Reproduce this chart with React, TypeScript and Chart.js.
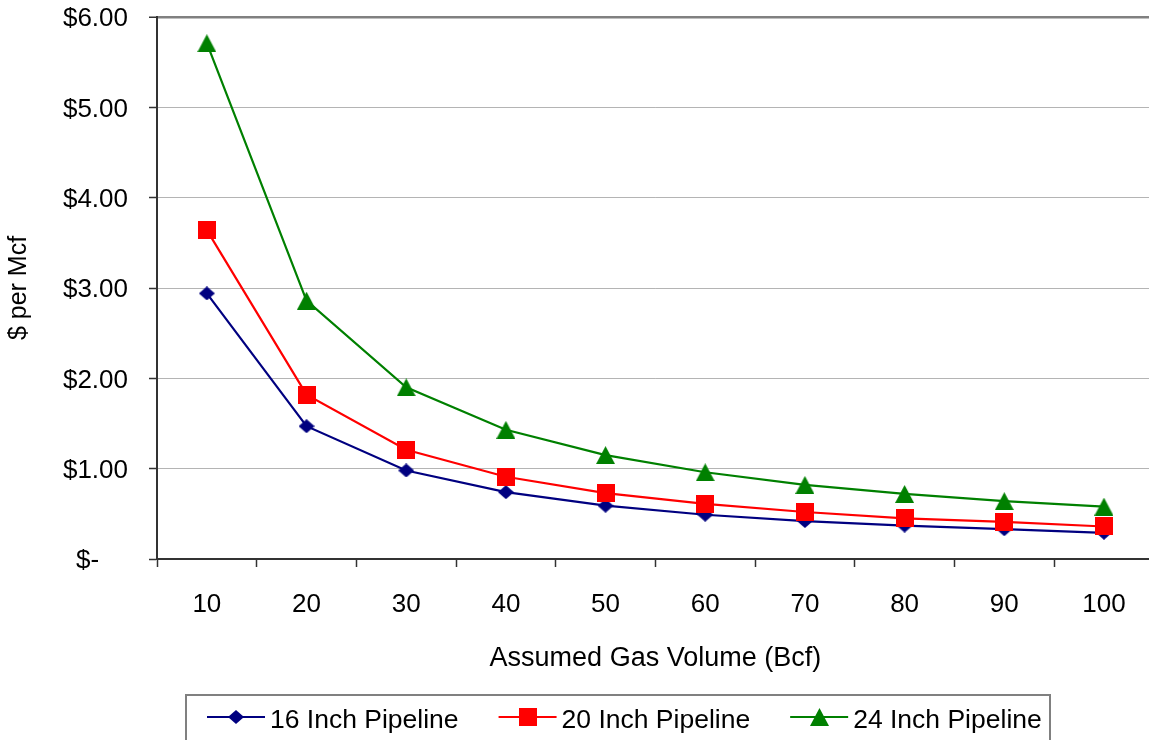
import React, { useEffect, useRef } from 'react';
import { Chart, registerables } from 'chart.js';

Chart.register(...registerables);

const categories = ['10', '20', '30', '40', '50', '60', '70', '80', '90', '100'];
const pipe16 = [2.94, 1.47, 0.98, 0.74, 0.59, 0.49, 0.42, 0.37, 0.33, 0.29];
const pipe20 = [3.64, 1.82, 1.21, 0.91, 0.73, 0.61, 0.52, 0.45, 0.41, 0.36];
const pipe24 = [5.71, 2.86, 1.90, 1.43, 1.15, 0.96, 0.82, 0.72, 0.64, 0.58];
const seriesLabels = ['16 Inch Pipeline', '20 Inch Pipeline', '24 Inch Pipeline'];
const seriesColors = ['#000080', '#FF0000', '#008000'];
const yMin = 0;
const yMax = 6;
const yStep = 1;
const xTitle = 'Assumed Gas Volume (Bcf)';
const yTitle = '$ per Mcf';

const FONT = "'Liberation Sans', Arial, sans-serif";

function makeMarker(shape: string, color: string, w: number, h: number) {
  const c = document.createElement('canvas');
  c.width = w;
  c.height = h;
  const g = c.getContext('2d')!;
  g.fillStyle = color;
  g.beginPath();
  if (shape === 'diamond') {
    g.moveTo(w / 2, 0);
    g.lineTo(w, h / 2);
    g.lineTo(w / 2, h);
    g.lineTo(0, h / 2);
  } else if (shape === 'square') {
    g.rect(0, 0, w, h);
  } else {
    g.moveTo(w / 2, 0);
    g.lineTo(w, h);
    g.lineTo(0, h);
  }
  g.closePath();
  g.fill();
  return c;
}

export default function App() {
  const ref = useRef<HTMLCanvasElement | null>(null);

  useEffect(() => {
    document.body.style.margin = '0';
    document.body.style.overflow = 'hidden';
    const markers = [
      makeMarker('diamond', seriesColors[0], 16, 14),
      makeMarker('square', seriesColors[1], 18, 18),
      makeMarker('triangle', seriesColors[2], 19, 18),
    ];
    const seriesData = [pipe16, pipe20, pipe24];

    const legendPlugin = {
      id: 'customLegend',
      afterDraw(chart: any) {
        const ctx = chart.ctx as CanvasRenderingContext2D;
        ctx.save();
        ctx.strokeStyle = '#808080';
        ctx.lineWidth = 2;
        ctx.strokeRect(186, 695, 864, 100);
        ctx.font = `26.5px ${FONT}`;
        ctx.textBaseline = 'middle';
        ctx.textAlign = 'left';
        let x = 207;
        const ly = 717;
        seriesLabels.forEach((label, i) => {
          ctx.strokeStyle = seriesColors[i];
          ctx.lineWidth = 2;
          ctx.beginPath();
          ctx.moveTo(x, ly);
          ctx.lineTo(x + 58, ly);
          ctx.stroke();
          const m = markers[i];
          ctx.drawImage(m, Math.round(x + 29 - m.width / 2), Math.round(ly - m.height / 2));
          ctx.fillStyle = '#000';
          ctx.fillText(label, x + 63, ly + 4);
          x = x + 63 + ctx.measureText(label).width + 40;
        });
        ctx.restore();
      },
    };

    const chart = new Chart(ref.current!, {
      type: 'line',
      data: {
        labels: categories,
        datasets: seriesData.map((d, i) => ({
          label: seriesLabels[i],
          data: d,
          borderColor: seriesColors[i],
          backgroundColor: seriesColors[i],
          borderWidth: 2.2,
          pointStyle: markers[i] as any,
          pointRadius: 9,
          tension: 0,
          order: 3 - i,
        })),
      },
      options: {
        animation: false,
        responsive: false,
        events: [],
        layout: { padding: { top: 17, right: 8, bottom: 0, left: 0 } },
        plugins: {
          legend: { display: false },
          tooltip: { enabled: false },
        },
        scales: {
          x: {
            type: 'category',
            offset: true,
            grid: {
              offset: true,
              drawOnChartArea: false,
              drawTicks: true,
              tickLength: 8,
              tickColor: '#333',
              tickWidth: 1.5,
            },
            border: { color: '#333', width: 2 },
            ticks: {
              color: '#000',
              font: { family: FONT, size: 26 },
              padding: 22,
              maxRotation: 0,
            },
            title: {
              display: true,
              text: xTitle,
              color: '#000',
              font: { family: FONT, size: 27 },
              padding: { top: 0, bottom: 65 },
            },
            afterFit: (scale: any) => {
              scale.height = 181;
            },
          },
          y: {
            type: 'linear',
            min: yMin,
            max: yMax,
            grid: {
              color: (c: any) => (c.tick && c.tick.value === yMax ? '#808080' : '#b4b4b4'),
              lineWidth: (c: any) => (c.tick && c.tick.value === yMax ? 2.5 : 1),
              tickLength: 8,
              tickColor: '#333',
              tickWidth: 1.5,
            },
            border: { color: '#333', width: 2 },
            ticks: {
              stepSize: yStep,
              color: '#000',
              font: { family: FONT, size: 26 },
              padding: 21,
              labelOffset: 2,
              callback: (v: any) => (Number(v) === 0 ? '$-    ' : '$' + Number(v).toFixed(2)),
            },
            title: {
              display: true,
              text: yTitle,
              color: '#000',
              font: { family: FONT, size: 25 },
              padding: { top: 4, bottom: 0 },
            },
            afterFit: (scale: any) => {
              scale.width = 157;
              scale.paddingTop = 0;
              scale.paddingBottom = 0;
            },
          },
        },
      },
      plugins: [legendPlugin],
    });
    return () => chart.destroy();
  }, []);

  return <canvas ref={ref} width={1165} height={740} style={{ display: 'block' }} />;
}
